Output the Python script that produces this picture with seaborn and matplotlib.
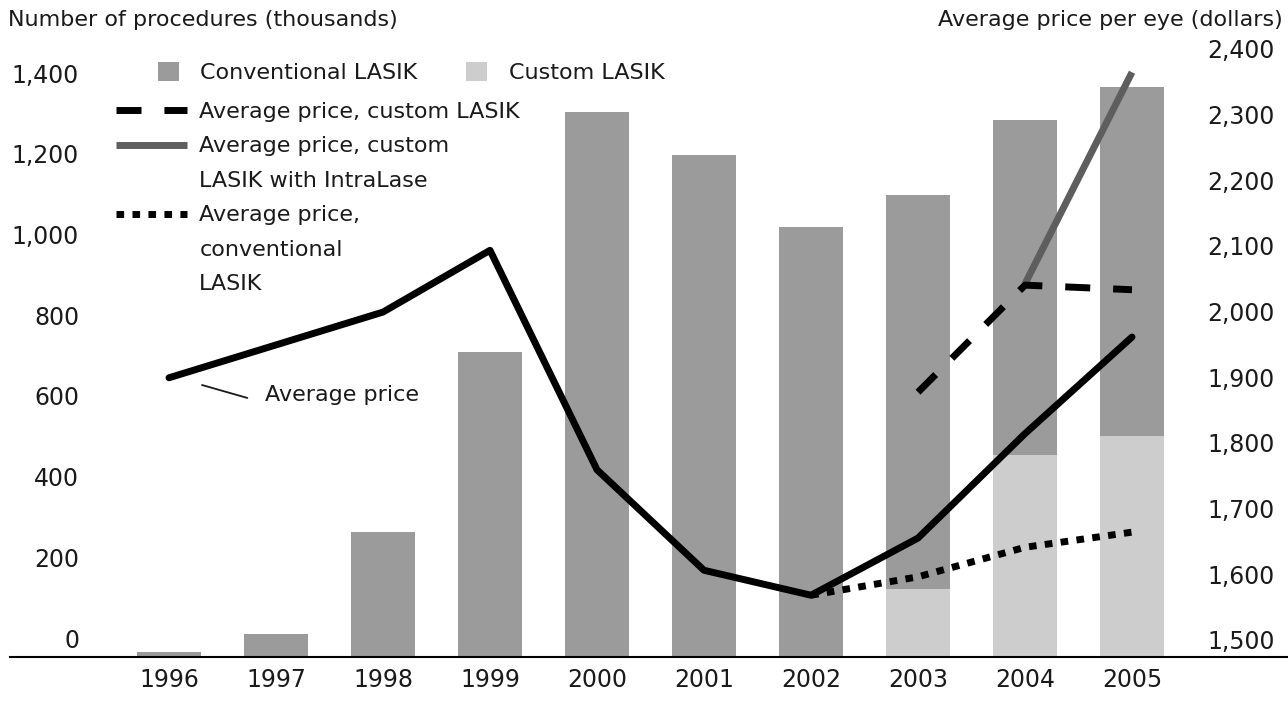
"""
LASIK procedures (bars) and average price per eye (lines), 1996-2005.
"""
import matplotlib.pyplot as plt
import numpy as np
import pandas as pd
import seaborn as sns
from matplotlib.lines import Line2D
from matplotlib.patches import Patch
from matplotlib.ticker import FuncFormatter
from matplotlib.transforms import ScaledTranslation

# procedures, thousands
years = [1996, 1997, 1998, 1999, 2000, 2001, 2002, 2003, 2004, 2005]
conventional = [12, 57, 310, 756, 1351, 1244, 1066, 976, 830, 865]
custom = [0, 0, 0, 0, 0, 0, 0, 169, 501, 548]

# average price per eye, dollars
avg_price = [1925, 1975, 2025, 2119, 1785, 1632, 1594, 1681, 1840, 1987]
conv_price_years = [2002, 2003, 2004, 2005]
conv_price = [1594, 1622, 1667, 1690]
custom_price_years = [2003, 2004, 2005]
custom_price = [1903, 2066, 2059]
intralase_years = [2004, 2005]
intralase_price = [2068, 2390]

left_ticks = list(range(0, 1401, 200))
right_ticks = list(range(1500, 2401, 100))

CONV_COLOR = '#9b9b9b'
CUSTOM_COLOR = '#cdcdcd'
INTRA_COLOR = '#5e5e5e'
TEXT_COLOR = '#1a1a1a'
W, H, DPI = 1288, 707, 100
FS = 16

DASHED = (0, (3.6, 3.3))
DOTTED = (0, (1.1, 1.2))


def px(v):
    # pixels -> points
    return v * 72 / DPI


def main():
    sns.set_theme(style='white')
    plt.rcParams['font.family'] = ['DejaVu Sans']
    plt.rcParams['text.color'] = TEXT_COLOR

    fig = plt.figure(figsize=(W / DPI, H / DPI), dpi=DPI)
    ax = fig.add_axes([10 / W, 50 / H, 1278 / W, 617 / H])

    bars = pd.DataFrame({'year': years, 'conventional': conventional, 'custom': custom})
    bars['total'] = bars['conventional'] + bars['custom']

    # stacked bars: total in dark grey, custom drawn over the bottom in light grey
    sns.barplot(data=bars, x='year', y='total', color=CONV_COLOR, saturation=1,
                width=0.6, native_scale=True, linewidth=0, ax=ax)
    sns.barplot(data=bars, x='year', y='custom', color=CUSTOM_COLOR, saturation=1,
                width=0.6, native_scale=True, linewidth=0, ax=ax)

    ax2 = ax.twinx()
    sns.lineplot(x=intralase_years, y=intralase_price, color=INTRA_COLOR, lw=5,
                 solid_capstyle='butt', ax=ax2)
    sns.lineplot(x=custom_price_years, y=custom_price, color='black', lw=5,
                 linestyle=DASHED, dash_capstyle='butt', ax=ax2)
    sns.lineplot(x=conv_price_years, y=conv_price, color='black', lw=5,
                 linestyle=DOTTED, dash_capstyle='butt', ax=ax2)
    sns.lineplot(x=years, y=avg_price, color='black', lw=5, ax=ax2)

    ax.set_xlim(years[0] - 159 / 107, years[0] + 1119 / 107)
    ax.set_ylim(0, 617 / 80.7 * 200)
    ax2.set_ylim(1500, 1500 + 617 / 0.657)

    ax.set_xticks(years, labels=[str(y) for y in years])
    ax.set_yticks(left_ticks)
    ax2.set_yticks(right_ticks)
    fmt = FuncFormatter(lambda v, p: f'{v:,.0f}')
    ax.yaxis.set_major_formatter(fmt)
    ax2.yaxis.set_major_formatter(fmt)

    ax.tick_params(axis='both', length=0, labelsize=17, labelcolor=TEXT_COLOR)
    ax.tick_params(axis='x', pad=8)
    ax.tick_params(axis='y', pad=-px(69))
    ax2.tick_params(axis='y', length=0, labelsize=17, labelcolor=TEXT_COLOR, pad=-px(13))
    plt.setp(ax2.get_yticklabels(), ha='right')

    for a in (ax, ax2):
        a.set_xlabel('')
        a.set_ylabel('')
        for s in ['left', 'right', 'top']:
            a.spines[s].set_visible(False)
    ax2.spines['bottom'].set_visible(False)
    ax.spines['bottom'].set_color('black')
    ax.spines['bottom'].set_linewidth(1.5)

    # value labels sit a little above their gridline
    for lbl in ax.get_yticklabels():
        lbl.set_transform(lbl.get_transform() + ScaledTranslation(0, 0.19, fig.dpi_scale_trans))
    for lbl in ax2.get_yticklabels():
        lbl.set_transform(lbl.get_transform() + ScaledTranslation(0, 0.17, fig.dpi_scale_trans))

    fig.text(8 / W, 1 - 20 / H, 'Number of procedures (thousands)', fontsize=FS,
             ha='left', va='center')
    fig.text(1283 / W, 1 - 20 / H, 'Average price per eye (dollars)', fontsize=FS,
             ha='right', va='center')

    ax2.annotate('Average price', xy=(years[0] + 33 / 107, 1914),
                 xytext=(px(63), px(-10)), textcoords='offset points',
                 ha='left', va='center', fontsize=FS,
                 arrowprops=dict(arrowstyle='-', color=TEXT_COLOR, lw=1.3,
                                 shrinkA=px(15), shrinkB=0, relpos=(0, 0.1)))

    # legends
    bar_handles = [Patch(facecolor=CONV_COLOR, lw=0), Patch(facecolor=CUSTOM_COLOR, lw=0)]
    fig.legend(bar_handles, ['Conventional LASIK', 'Custom LASIK'], ncol=2,
               loc='upper left', bbox_to_anchor=(158 / W, 1 - 62 / H),
               frameon=False, fontsize=FS, handlelength=0.95, handleheight=0.95,
               handletextpad=0.95, columnspacing=2.2, borderpad=0, borderaxespad=0)

    blank = Line2D([], [], color='none')
    line_handles = [
        Line2D([], [], color='black', lw=5, ls=DASHED, dash_capstyle='butt'),
        Line2D([], [], color=INTRA_COLOR, lw=5, solid_capstyle='butt'),
        blank,
        Line2D([], [], color='black', lw=5, ls=DOTTED, dash_capstyle='butt'),
        blank,
        blank,
    ]
    line_labels = ['Average price, custom LASIK', 'Average price, custom',
                   'LASIK with IntraLase', 'Average price,', 'conventional', 'LASIK']
    fig.legend(line_handles, line_labels, loc='upper left',
               bbox_to_anchor=(116 / W, 1 - 102 / H), frameon=False, fontsize=FS,
               handlelength=3.2, handletextpad=0.55, labelspacing=0.65,
               borderpad=0, borderaxespad=0)

    fig.savefig('out.png', dpi=DPI)


if __name__ == '__main__':
    main()
